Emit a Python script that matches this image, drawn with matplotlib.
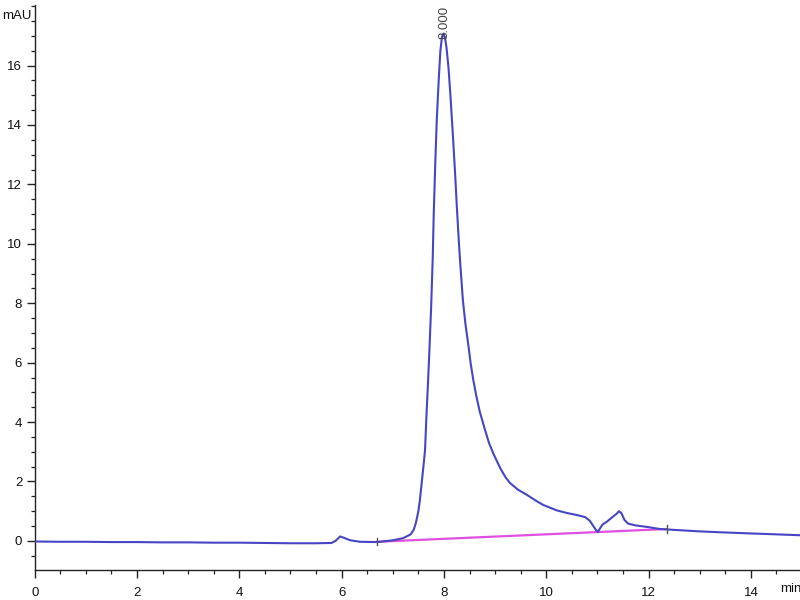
import matplotlib
matplotlib.use("Agg")
import matplotlib.pyplot as plt
from matplotlib.ticker import MultipleLocator, FixedLocator

# Chromatogram signal (min, mAU)
time_min = [0.0, 0.5, 1.0, 1.5, 2.0, 2.5, 3.0, 3.5, 4.0, 4.5, 5.0, 5.5, 5.8,
            5.88, 5.97, 6.05, 6.17, 6.36, 6.7, 7.0, 7.2, 7.35, 7.41, 7.45,
            7.50, 7.53, 7.58, 7.61, 7.63, 7.66, 7.69, 7.72, 7.75, 7.78, 7.80,
            7.83, 7.86, 7.90, 7.93, 7.96, 7.99, 8.02, 8.05, 8.09, 8.13, 8.18,
            8.22, 8.25, 8.29, 8.32, 8.37, 8.42, 8.48, 8.52, 8.57, 8.63, 8.70,
            8.80, 8.88, 8.96, 9.10, 9.20, 9.29, 9.45, 9.62, 9.80, 9.94, 10.2,
            10.4, 10.6, 10.76, 10.85, 10.92, 10.97, 11.01, 11.05, 11.10, 11.18,
            11.30, 11.38, 11.42, 11.47, 11.53, 11.60, 11.75, 11.97, 12.22,
            12.5, 13.0, 13.4, 14.0, 14.5, 14.96]
signal_mau = [-0.02, -0.03, -0.03, -0.04, -0.04, -0.05, -0.05, -0.06, -0.06,
              -0.07, -0.08, -0.08, -0.07, 0.0, 0.15, 0.10, 0.02, -0.03, -0.04,
              0.02, 0.09, 0.22, 0.38, 0.6, 1.0, 1.38, 2.2, 2.7, 3.06, 4.3, 5.4,
              6.6, 7.9, 9.5, 11.0, 12.7, 14.2, 15.6, 16.5, 16.95, 17.08, 16.95,
              16.6, 15.9, 14.9, 13.5, 12.3, 11.3, 10.1, 9.3, 8.1, 7.3, 6.55,
              6.0, 5.45, 4.9, 4.35, 3.75, 3.3, 2.96, 2.45, 2.15, 1.95, 1.72,
              1.55, 1.35, 1.21, 1.03, 0.94, 0.87, 0.80, 0.68, 0.50, 0.37, 0.30,
              0.42, 0.55, 0.64, 0.81, 0.92, 1.00, 0.93, 0.70, 0.58, 0.52, 0.47,
              0.40, 0.37, 0.32, 0.29, 0.25, 0.22, 0.19]

# Integration baseline
baseline_t = [6.69, 12.36]
baseline_y = [-0.03, 0.40]

peak_rt = 8.000
peak_label = "8.000"

x_major = [0, 2, 4, 6, 8, 10, 12, 14]
y_major = [0, 2, 4, 6, 8, 10, 12, 14, 16]

plt.rcParams['font.family'] = ['Liberation Sans', 'DejaVu Sans']

fig = plt.figure(figsize=(8, 6), dpi=100)
ax = fig.add_axes([0.0434, 0.05, 1 - 0.0434, 0.9417])

ax.plot(baseline_t, baseline_y, color='#e050e0', lw=1.6, zorder=2)
ax.plot(time_min, signal_mau, color='#4646c4', lw=1.5, zorder=3,
        solid_joinstyle='round')

# baseline markers
for bt, by in zip(baseline_t, baseline_y):
    ax.plot([bt, bt], [by - 0.12, by + 0.12], color='#555555', lw=1.0, zorder=4)

ax.text(peak_rt, 17.45, peak_label, rotation=90, ha='center', va='center',
        fontsize=9.5, color='#444444')

ax.set_xlim(0, 14.96)
ax.set_ylim(-0.98, 18.04)

ax.xaxis.set_major_locator(FixedLocator(x_major))
ax.yaxis.set_major_locator(FixedLocator(y_major))
ax.xaxis.set_minor_locator(MultipleLocator(0.5))
ax.yaxis.set_minor_locator(MultipleLocator(0.5))

ax.spines['top'].set_visible(False)
ax.spines['right'].set_visible(False)
for s in ('left', 'bottom'):
    ax.spines[s].set_color('#222222')
    ax.spines[s].set_linewidth(1.0)

ax.tick_params(axis='both', which='major', length=6, width=1.0, color='#222222',
               labelsize=9.5, labelcolor='#111111', direction='out')
ax.tick_params(axis='both', which='minor', length=3, width=0.9, color='#222222',
               direction='out')
ax.tick_params(axis='x', pad=6)
ax.tick_params(axis='y', pad=3)

fig.text(2 / 800, 1 - 16 / 600, "mAU", fontsize=9.5, ha='left', va='center',
         color='#111111')
fig.text(780 / 800, 1 - 589 / 600, "min", fontsize=9.5, ha='left', va='center',
         color='#111111')

fig.savefig("out.png", dpi=100)
